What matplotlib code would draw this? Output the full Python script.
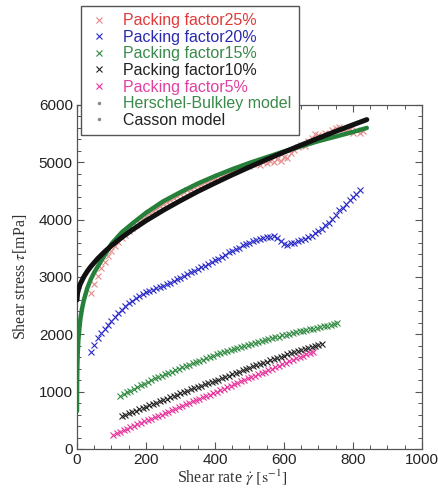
import numpy as np
import matplotlib
matplotlib.use("Agg")
import matplotlib.pyplot as plt
from matplotlib.lines import Line2D
from matplotlib.ticker import MultipleLocator

plt.rcParams['mathtext.fontset'] = 'stix'

# ---------------- data ----------------
labels = ["Packing factor25%", "Packing factor20%", "Packing factor15%",
          "Packing factor10%", "Packing factor5%"]

# measured series on an even shear-rate grid: start, step
pf25_start, pf25_step = 40, 10
pf25_y = [2720, 2880, 3020, 3150, 3260, 3360, 3450, 3540, 3610, 3680,
          3740, 3800, 3860, 3910, 3960, 4010, 4060, 4110, 4150, 4190,
          4230, 4270, 4310, 4340, 4380, 4410, 4450, 4480, 4510, 4540,
          4570, 4600, 4630, 4650, 4680, 4710, 4730, 4760, 4780, 4800,
          4830, 4850, 4880, 4890, 4920, 4940, 4930, 4970, 4990, 4960,
          5010, 4980, 5030, 5000, 5060, 5020, 5100, 5080, 5170, 5220,
          5260, 5300, 5280, 5380, 5420, 5500, 5470, 5440, 5520, 5490,
          5560, 5600, 5620, 5560, 5540, 5580, 5520, 5560, 5510, 5540]

pf20_start, pf20_step = 40, 10
pf20_y = [1700, 1820, 1930, 2020, 2100, 2170, 2240, 2310, 2370, 2430,
          2490, 2540, 2590, 2630, 2670, 2700, 2730, 2750, 2770, 2800,
          2820, 2850, 2880, 2900, 2930, 2960, 2990, 3020, 3050, 3080,
          3110, 3140, 3170, 3200, 3230, 3270, 3300, 3320, 3350, 3390,
          3430, 3460, 3490, 3500, 3550, 3580, 3600, 3620, 3650, 3670,
          3680, 3700, 3690, 3720, 3680, 3620, 3580, 3560, 3590, 3600,
          3620, 3640, 3660, 3690, 3720, 3760, 3810, 3840, 3900, 3950,
          4010, 4080, 4160, 4200, 4280, 4340, 4390, 4450, 4520]

pf15_start, pf15_step = 125, 10
pf15_y = [930, 960, 990, 1020, 1050, 1080, 1110, 1140, 1170, 1200,
          1230, 1250, 1280, 1300, 1330, 1350, 1380, 1400, 1430, 1450,
          1470, 1500, 1520, 1540, 1560, 1590, 1610, 1630, 1650, 1670,
          1690, 1710, 1730, 1750, 1770, 1780, 1800, 1820, 1840, 1850,
          1870, 1890, 1900, 1920, 1930, 1950, 1960, 1980, 1990, 2010,
          2020, 2040, 2050, 2060, 2080, 2090, 2100, 2110, 2130, 2140,
          2150, 2170, 2180, 2200]

pf10_start, pf10_step = 130, 10
pf10_y = [580, 600, 630, 650, 670, 700, 720, 740, 770, 790,
          810, 830, 860, 880, 900, 920, 950, 970, 990, 1010,
          1040, 1060, 1080, 1100, 1130, 1150, 1170, 1190, 1210, 1240,
          1260, 1280, 1300, 1330, 1350, 1370, 1390, 1410, 1440, 1460,
          1480, 1500, 1520, 1550, 1570, 1590, 1610, 1630, 1650, 1670,
          1690, 1710, 1720, 1740, 1760, 1780, 1800, 1820, 1840]

pf5_start, pf5_step = 105, 10
pf5_y = [250, 280, 300, 330, 350, 380, 400, 430, 450, 480,
         500, 530, 550, 580, 600, 630, 650, 680, 700, 730,
         750, 780, 800, 830, 850, 880, 900, 930, 950, 980,
         1000, 1030, 1050, 1080, 1100, 1130, 1150, 1180, 1200, 1230,
         1250, 1280, 1300, 1330, 1350, 1380, 1400, 1430, 1450, 1480,
         1500, 1530, 1550, 1580, 1600, 1630, 1650, 1670, 1690]

# model curves
hb_x = [0.02, 0.1, 0.3, 1, 2, 4, 7, 10, 15, 20, 30, 40, 50, 70, 100, 130,
        160, 200, 250, 300, 350, 400, 450, 500, 550, 600, 650, 700, 750,
        800, 840]
hb_y = [660, 900, 1130, 1440, 1650, 1900, 2110, 2280, 2460, 2600, 2810,
        2960, 3080, 3280, 3580, 3780, 3930, 4120, 4320, 4480, 4630, 4760,
        4880, 4990, 5090, 5190, 5280, 5370, 5450, 5530, 5600]

casson_x = [0, 1, 2, 5, 10, 20, 30, 40, 60, 80, 100, 130, 160, 200, 250,
            300, 350, 400, 450, 500, 550, 600, 650, 700, 750, 800, 840]
casson_y = [2600, 2680, 2726, 2800, 2884, 3006, 3101, 3182, 3321, 3440,
            3547, 3691, 3822, 3982, 4164, 4332, 4492, 4639, 4782, 4918,
            5051, 5178, 5302, 5423, 5540, 5655, 5745]

x_ticks = [0, 200, 400, 600, 800, 1000]
y_ticks = [0, 1000, 2000, 3000, 4000, 5000, 6000]

# ---------------- styling ----------------
series = [
    (pf25_start, pf25_step, pf25_y, "#e58a8a", "#e03a3a"),
    (pf20_start, pf20_step, pf20_y, "#2a2ac8", "#2a2ab0"),
    (pf15_start, pf15_step, pf15_y, "#2f8a40", "#3a8a4a"),
    (pf10_start, pf10_step, pf10_y, "#222222", "#222222"),
    (pf5_start, pf5_step, pf5_y, "#e8349c", "#e040a0"),
]

W, H = 439, 492
fig = plt.figure(figsize=(W / 100, H / 100), dpi=100)
ax = fig.add_axes([77 / W, 1 - 449 / H, (422 - 77) / W, (449 - 105) / H])

handles = []
text_colors = []
for (start, step, ys, mc, tc), lab in zip(series, labels):
    xs = start + step * np.arange(len(ys))
    h, = ax.plot(xs, ys, ls='none', marker='x', ms=5, mew=0.8, color=mc,
                 label=lab)
    handles.append(h)
    text_colors.append(tc)

ax.plot(hb_x, hb_y, color="#25803a", lw=3.2, solid_capstyle='round', zorder=4)
ax.plot(casson_x, casson_y, color="#111111", lw=3.6, solid_capstyle='round',
        zorder=5)

hb_handle = Line2D([], [], ls='none', marker='.', ms=3, color="#888888",
                   label="Herschel-Bulkley model")
ca_handle = Line2D([], [], ls='none', marker='.', ms=3, color="#888888",
                   label="Casson model")
handles += [hb_handle, ca_handle]
text_colors += ["#3a8a4a", "#222222"]

ax.set_xlim(0, 1000)
ax.set_ylim(0, 6000)
ax.set_xticks(x_ticks)
ax.set_yticks(y_ticks)
ax.xaxis.set_minor_locator(MultipleLocator(50))
ax.yaxis.set_minor_locator(MultipleLocator(200))
ax.tick_params(which='both', direction='in', top=True, right=True,
               colors="#555555", labelcolor="#222222")
ax.tick_params(which='major', length=5, width=0.8, labelsize=11, pad=3)
ax.tick_params(which='minor', length=3, width=0.7)
for lbl in ax.get_xticklabels() + ax.get_yticklabels():
    lbl.set_family("Liberation Sans")
for s in ax.spines.values():
    s.set_color("#555555")
    s.set_linewidth(0.9)

ax.set_xlabel(r"Shear rate $\dot{\gamma}$ $[\mathrm{s}^{-1}]$",
              family="Liberation Serif", fontsize=11.5, color="#333333",
              labelpad=1)
ax.xaxis.set_label_coords(0.45, -0.055)
ax.set_ylabel(r"Shear stress $\tau$[mPa]", family="Liberation Serif",
              fontsize=11.5, color="#333333", labelpad=7)

leg = fig.legend(handles=handles, loc='upper left',
                 bbox_to_anchor=(81 / W, 1 - 6 / H), borderaxespad=0,
                 frameon=True, fancybox=False, edgecolor="#555555",
                 framealpha=1, prop={'family': 'Liberation Sans', 'size': 11.5},
                 handlelength=1.4, handletextpad=0.8, labelspacing=0.1,
                 borderpad=0.45)
leg.set_zorder(10)
for t, c in zip(leg.get_texts(), text_colors):
    t.set_color(c)

fig.savefig("out.png", dpi=100)
